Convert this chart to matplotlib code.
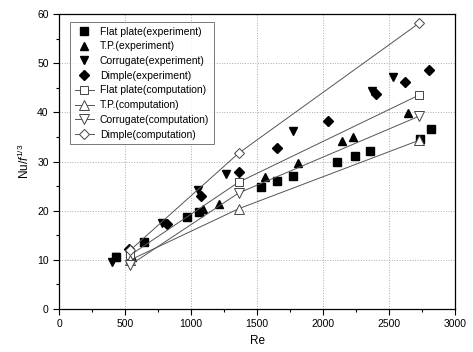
import numpy as np
import matplotlib
matplotlib.use("Agg")
import matplotlib.pyplot as plt
from matplotlib.ticker import MultipleLocator

plt.rcParams['font.family'] = ['Liberation Sans', 'DejaVu Sans']
plt.rcParams['mathtext.fontset'] = 'custom'
plt.rcParams['mathtext.rm'] = 'Liberation Sans'
plt.rcParams['mathtext.it'] = 'Liberation Sans:italic'

# experiment data
re_flat = [430, 644, 970, 1060, 1530, 1652, 1773, 2106, 2242, 2356, 2735, 2818]
nu_flat = [10.5, 13.6, 18.7, 19.8, 24.8, 26.0, 27.0, 30.0, 31.2, 32.2, 34.6, 36.6]

re_tp = [553, 1090, 1210, 1560, 1811, 2144, 2227, 2644]
nu_tp = [10.5, 20.3, 21.4, 26.8, 29.7, 34.1, 34.9, 39.8]

re_corr = [400, 430, 780, 1053, 1265, 1773, 2370, 2530]
nu_corr = [9.6, 10.5, 17.6, 24.2, 27.4, 36.3, 44.3, 47.2]

re_dimple = [530, 820, 1076, 1364, 1652, 2038, 2400, 2621, 2803]
nu_dimple = [12.2, 17.4, 23.0, 27.8, 32.7, 38.2, 43.8, 46.1, 48.6]

# computation data
re_comp = [540, 1360, 2725]
nu_flat_comp = [11.0, 25.8, 43.5]
nu_tp_comp = [10.0, 20.4, 34.3]
nu_corr_comp = [9.0, 23.6, 39.2]
nu_dimple_comp = [12.0, 31.7, 58.1]

fig = plt.figure(figsize=(4.73, 3.52), dpi=100)
ax = fig.add_axes([0.125, 0.122, 0.837, 0.838])

ms = 5.5
ax.plot(re_flat, nu_flat, 's', color='black', ms=ms, ls='none', label='Flat plate(experiment)')
ax.plot(re_tp, nu_tp, '^', color='black', ms=ms + 0.5, ls='none', label='T.P.(experiment)')
ax.plot(re_corr, nu_corr, 'v', color='black', ms=ms + 0.5, ls='none', label='Corrugate(experiment)')
ax.plot(re_dimple, nu_dimple, 'D', color='black', ms=ms - 0.5, ls='none', label='Dimple(experiment)')

line_kw = dict(color='#555555', lw=0.7, mfc='white', mec='#444444', mew=0.7)
ax.plot(re_comp, nu_flat_comp, marker='s', ms=ms + 0.5, label='Flat plate(computation)', **line_kw)
ax.plot(re_comp, nu_tp_comp, marker='^', ms=ms + 1, label='T.P.(computation)', **line_kw)
ax.plot(re_comp, nu_corr_comp, marker='v', ms=ms + 1, label='Corrugate(computation)', **line_kw)
ax.plot(re_comp, nu_dimple_comp, marker='D', ms=ms - 0.5, label='Dimple(computation)', **line_kw)

ax.set_xlim(0, 3000)
ax.set_ylim(0, 60)
ax.xaxis.set_major_locator(MultipleLocator(500))
ax.xaxis.set_minor_locator(MultipleLocator(250))
ax.yaxis.set_major_locator(MultipleLocator(10))
ax.yaxis.set_minor_locator(MultipleLocator(5))
ax.tick_params(which='both', direction='out', labelsize=7.5, width=0.8)
ax.tick_params(which='major', length=4)
ax.tick_params(which='minor', length=2)
ax.grid(True, which='major', ls=':', color='#aaaaaa', lw=0.7)
for s in ax.spines.values():
    s.set_linewidth(0.9)

ax.set_xlabel('Re', fontsize=8.5)
ax.set_ylabel(r'Nu/$f^{1/3}$', fontsize=8.5)

leg = ax.legend(loc='upper left', bbox_to_anchor=(0.028, 0.973), borderaxespad=0,
                fontsize=7.5, frameon=True, fancybox=False, edgecolor='#555555',
                labelspacing=0.45, handlelength=1.8, handletextpad=0.6, borderpad=0.45)
leg.get_frame().set_linewidth(0.7)

fig.savefig('out.png', dpi=100)
